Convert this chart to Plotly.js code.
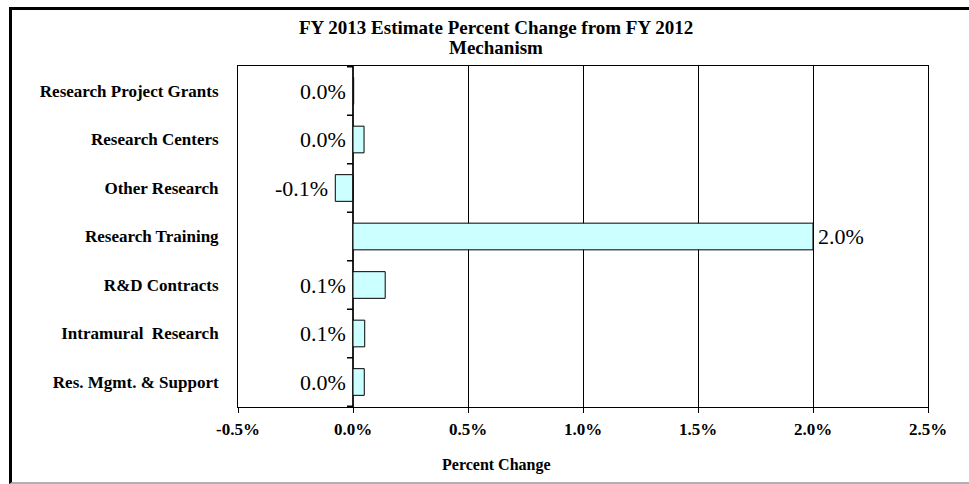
<!DOCTYPE html>
<html>
<head>
<meta charset="utf-8">
<script src="https://cdn.plot.ly/plotly-3.0.1.min.js"></script>
<style>
  html, body { margin: 0; padding: 0; background: #ffffff; }
  #wrap { position: relative; width: 969px; height: 484px; overflow: hidden; }
  #chart { position: absolute; left: 0; top: 0; width: 969px; height: 484px; }
  #frame { position: absolute; left: 9px; top: 7px; width: 960px; height: 472px;
           border-left: 3px solid #000; border-top: 3px solid #000; border-bottom: 2px solid #b0b0b0;
           pointer-events: none; }
</style>
</head>
<body>
<div id="wrap">
  <div id="chart"></div>
  <div id="frame"></div>
</div>
<script>
const categories = [
  "Research Project Grants",
  "Research Centers",
  "Other Research",
  "Research Training",
  "R&D Contracts",
  "Intramural  Research",
  "Res. Mgmt. & Support"
];
const percentChange = [0.003, 0.048, -0.077, 2.0, 0.14, 0.051, 0.049];
const xTicks = [-0.5, 0, 0.5, 1.0, 1.5, 2.0, 2.5];
const xTickLabels = ["-0.5%", "0.0%", "0.5%", "1.0%", "1.5%", "2.0%", "2.5%"];

const serif = '"Liberation Serif", "Times New Roman", Times, serif';

const bars = {
  type: "bar",
  orientation: "h",
  x: percentChange,
  y: categories,
  width: 0.55,
  marker: { color: "#CCFFFF", line: { color: "#000000", width: 1 } },
  hoverinfo: "none",
  cliponaxis: false
};

const annotations = percentChange.map((v, i) => {
  const big = v > 1;
  return {
    x: big ? v : Math.min(0, v),
    y: categories[i],
    xref: "x", yref: "y",
    text: v.toFixed(1) + "%",
    showarrow: false,
    xanchor: big ? "left" : "right",
    xshift: big ? 3 : -5,
    yanchor: "middle",
    font: { family: serif, size: 22, color: "#000" }
  };
});

const plotLeft = 238, plotWidth = 690;
const titleX = (496 - plotLeft) / plotWidth;
annotations.push({
  text: "<b>FY 2013 Estimate Percent Change from FY 2012</b>",
  xref: "paper", yref: "paper", x: titleX, y: 1, yshift: 39,
  xanchor: "center", yanchor: "middle", showarrow: false,
  font: { family: serif, size: 19, color: "#000" }
});
annotations.push({
  text: "<b>Mechanism</b>",
  xref: "paper", yref: "paper", x: titleX, y: 1, yshift: 19,
  xanchor: "center", yanchor: "middle", showarrow: false,
  font: { family: serif, size: 19, color: "#000" }
});
annotations.push({
  text: "<b>Percent Change</b>",
  xref: "paper", yref: "paper", x: titleX, y: 0, yshift: -58,
  xanchor: "center", yanchor: "middle", showarrow: false,
  font: { family: serif, size: 16, color: "#000" }
});

// value axis line at zero and its tick marks at category boundaries
const pxPerUnit = plotWidth / 3;
const halfPx = 0.5 / pxPerUnit;
const shapes = [{
  type: "line", xref: "x", yref: "paper",
  x0: -halfPx, x1: -halfPx, y0: 0, y1: 1,
  line: { color: "#222222", width: 1 }, layer: "above"
}];
for (let i = 0; i <= categories.length; i++) {
  shapes.push({
    type: "line", xref: "x", yref: "y",
    x0: -6 / pxPerUnit, x1: 0,
    y0: i - 0.5, y1: i - 0.5,
    line: { color: "#000000", width: 1.5 }, layer: "above"
  });
}

const layout = {
  width: 969,
  height: 484,
  margin: { l: plotLeft, r: 969 - plotLeft - plotWidth, t: 66, b: 77, pad: 0 },
  paper_bgcolor: "#ffffff",
  plot_bgcolor: "#ffffff",
  showlegend: false,
  xaxis: {
    range: [-0.5, 2.5],
    tickvals: xTicks,
    ticktext: xTickLabels,
    tickfont: { family: serif, size: 17, color: "#000", weight: "bold" },
    ticks: "outside",
    ticklen: 5,
    tickcolor: "#000",
    ticklabelstandoff: 2,
    showgrid: true,
    gridcolor: "#000",
    gridwidth: 1,
    zeroline: true,
    zerolinecolor: "#222222",
    zerolinewidth: 1,
    showline: true,
    linecolor: "#000",
    linewidth: 1,
    mirror: true,
    fixedrange: true
  },
  yaxis: {
    type: "category",
    categoryorder: "array",
    categoryarray: categories,
    autorange: "reversed",
    tickfont: { family: serif, size: 17, color: "#000", weight: "bold" },
    ticks: "",
    ticklabelstandoff: 15,
    showgrid: false,
    zeroline: false,
    showline: true,
    linecolor: "#000",
    linewidth: 1,
    mirror: true,
    fixedrange: true
  },
  shapes: shapes,
  annotations: annotations
};

Plotly.newPlot("chart", [bars], layout, { displayModeBar: false, staticPlot: true });
</script>
</body>
</html>
